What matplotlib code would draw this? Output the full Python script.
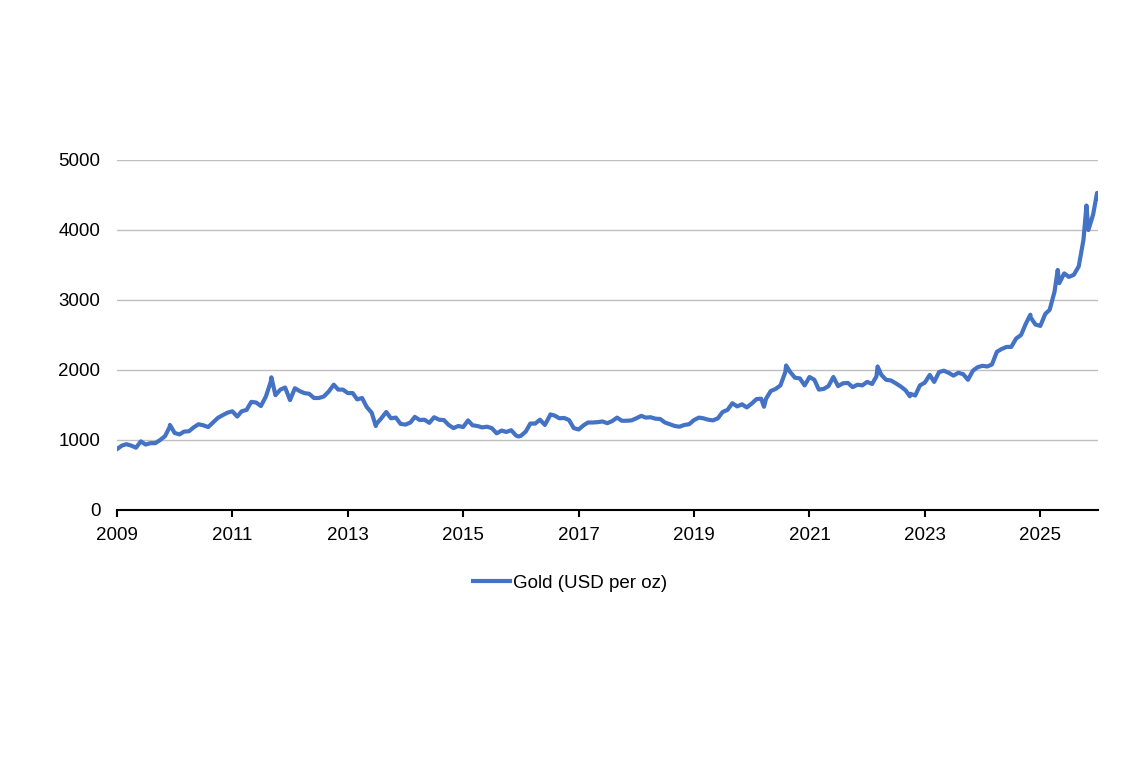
import numpy as np
import pandas as pd
import matplotlib
matplotlib.use("Agg")
import matplotlib.pyplot as plt
import matplotlib.dates as mdates

plt.rcParams['font.family'] = ['Liberation Sans', 'DejaVu Sans']

# gold price, start of each month 2009-01 .. 2025-12 (USD per oz)
monthly = [
    870, 920, 940, 920, 890, 980, 935, 955, 955, 1000, 1055, 1190,      # 2009
    1100, 1080, 1120, 1125, 1180, 1225, 1210, 1185, 1250, 1315, 1355, 1390,  # 2010
    1410, 1335, 1410, 1430, 1545, 1535, 1485, 1620, 1830, 1640, 1720, 1750,  # 2011
    1570, 1740, 1700, 1670, 1660, 1600, 1600, 1620, 1690, 1780, 1720, 1720,  # 2012
    1670, 1670, 1580, 1600, 1470, 1390, 1230, 1310, 1400, 1310, 1320, 1230,  # 2013
    1220, 1250, 1330, 1285, 1290, 1245, 1325, 1290, 1285, 1215, 1170, 1200,  # 2014
    1185, 1280, 1210, 1200, 1180, 1190, 1170, 1095, 1135, 1115, 1140, 1065,  # 2015
    1060, 1120, 1235, 1235, 1290, 1215, 1340, 1350, 1310, 1315, 1285, 1170,  # 2016
    1150, 1210, 1250, 1250, 1255, 1265, 1240, 1270, 1320, 1275, 1275, 1280,  # 2017
    1310, 1345, 1320, 1325, 1305, 1300, 1250, 1225, 1200, 1190, 1215, 1225,  # 2018
    1285, 1320, 1310, 1290, 1280, 1310, 1400, 1430, 1525, 1480, 1510, 1465,  # 2019
    1520, 1585, 1590, 1590, 1700, 1730, 1780, 1970, 1970, 1890, 1880, 1780,  # 2020
    1900, 1860, 1720, 1730, 1770, 1900, 1770, 1810, 1815, 1755, 1790, 1780,  # 2021
    1830, 1800, 1910, 1930, 1860, 1850, 1810, 1765, 1710, 1660, 1635, 1780,  # 2022
    1820, 1930, 1830, 1970, 1990, 1960, 1920, 1960, 1940, 1860, 1990, 2040,  # 2023
    2060, 2050, 2080, 2260, 2300, 2330, 2330, 2450, 2500, 2660, 2750, 2650,  # 2024
    2630, 2800, 2860, 3120, 3240, 3380, 3330, 3360, 3480, 3860, 4000, 4220,  # 2025
]
# visible peaks and troughs between month starts
peak_dates = ['2009-12-02', '2011-09-05', '2012-10-04', '2013-06-27', '2015-12-17',
              '2016-07-06', '2020-03-19', '2020-08-06', '2022-03-08', '2022-09-28',
              '2024-10-30', '2025-04-21', '2025-10-20', '2025-12-26']
peak_values = [1215, 1895, 1790, 1200, 1050, 1365, 1475, 2065, 2050, 1625,
               2790, 3430, 4350, 4530]
last_date, last_value = '2025-12-31', 4450

dates = pd.date_range('2009-01-01', periods=len(monthly), freq='MS')
gold = pd.Series(monthly, index=dates)
extra = pd.Series(peak_values + [last_value], index=pd.to_datetime(peak_dates + [last_date]))
gold = pd.concat([gold, extra]).sort_index()

fig = plt.figure(figsize=(11.4, 7.6), dpi=100)
ax = fig.add_axes([117/1140, 1-510/760, (1098-117)/1140, 350/760])

ax.plot(gold.index, gold.values, color='#4472C4', lw=3.0, label='Gold (USD per oz)')

ax.set_ylim(0, 5000)
ax.set_yticks(range(0, 5001, 1000))
ax.set_xlim(pd.Timestamp('2009-01-01'), pd.Timestamp('2026-01-01'))
ax.set_xticks([pd.Timestamp(f'{y}-01-01') for y in range(2009, 2026, 2)])
ax.xaxis.set_major_formatter(mdates.DateFormatter('%Y'))

ax.grid(axis='y', color='#BFBFBF', lw=1)
ax.set_axisbelow(True)
for s in ['left', 'right', 'top']:
    ax.spines[s].set_visible(False)
ax.spines['bottom'].set_color('black')
ax.spines['bottom'].set_linewidth(1.5)
ax.tick_params(axis='x', direction='out', length=5, width=1.5, pad=7, labelsize=13.5)
ax.tick_params(axis='y', length=0, pad=12, labelsize=13.5)

fig.legend(loc='center', bbox_to_anchor=(570/1140, 1-583/760), frameon=False,
           fontsize=13.5, handlelength=2.0, handletextpad=0.15)

plt.savefig('out.png', dpi=100)
plt.close()
